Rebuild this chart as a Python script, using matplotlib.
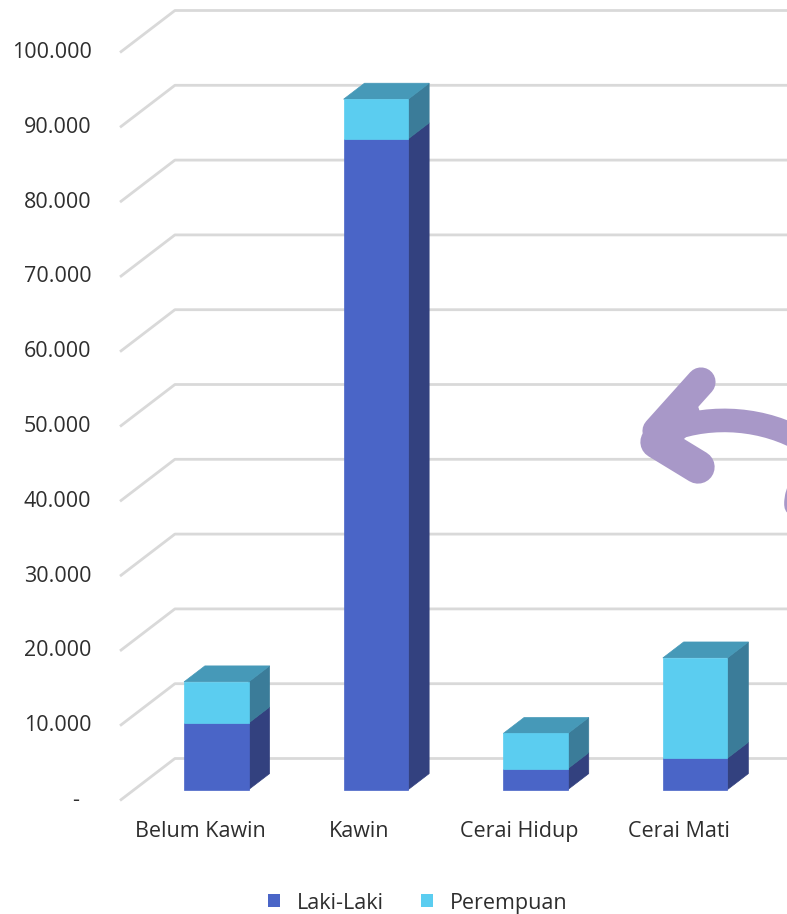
import numpy as np
import matplotlib
matplotlib.use("Agg")
import matplotlib.pyplot as plt
from matplotlib.patches import Polygon, Patch, PathPatch
from matplotlib.path import Path

plt.rcParams['font.family'] = ['Open Sans', 'DejaVu Sans']

# data
categories = ["Belum Kawin", "Kawin", "Cerai Hidup", "Cerai Mati"]
laki_laki = [8900, 87000, 2800, 4200]
perempuan = [5500, 5300, 4700, 13400]
y_ticks = list(range(0, 100001, 10000))
series_names = ["Laki-Laki", "Perempuan"]

# colours: front, side, top
col_laki = ("#4A65C7", "#33417F", "#3E57AE")
col_prm = ("#5BCDF0", "#3B7C99", "#4699B8")
grid_col = "#D9D9D9"
text_col = "#2E2E2E"

# fake 3d: depth offset of the floor in data units
DX = 0.344
DY = 5615.0
F0, F1 = 0.26, 0.64      # bar front / back depth fraction
BAR_W = 0.405
BAR_SHIFT = 0.013

fig = plt.figure(figsize=(7.87, 9.14), dpi=100)
ax = fig.add_axes([0, 0, 1, 1])
# category 0 at x=200px, 159.6px per category; 0 at y=800.5px, 74.8px per 10.000
ax.set_xlim((0 - 200) / 159.6, (787 - 200) / 159.6)
ax.set_ylim((800.5 - 914) / 74.8 * 10000, 800.5 / 74.8 * 10000)
ax.axis("off")

x_left = (120 - 200) / 159.6
x_right = ax.get_xlim()[1] + 1
for v in y_ticks:
    ax.plot([x_left, x_left + DX, x_right], [v, v + DY, v + DY],
            color=grid_col, lw=2.0, zorder=1, solid_capstyle="butt")
    lab = "-" if v == 0 else f"{v:,}".replace(",", ".")
    xo = -0.76 if v == 0 else -0.68
    ax.text(xo, v, lab, ha="right", va="center", fontsize=15.5, color=text_col)


def box(ax, xc, bottom, top, cols, draw_top):
    x0, x1 = xc - BAR_W / 2, xc + BAR_W / 2
    def p(x, v, f):
        return (x + f * DX, v + f * DY)
    front = [p(x0, bottom, F0), p(x1, bottom, F0), p(x1, top, F0), p(x0, top, F0)]
    side = [p(x1, bottom, F0), p(x1, bottom, F1), p(x1, top, F1), p(x1, top, F0)]
    ax.add_patch(Polygon(side, closed=True, facecolor=cols[1], edgecolor=cols[1], lw=0.5, zorder=3))
    ax.add_patch(Polygon(front, closed=True, facecolor=cols[0], edgecolor=cols[0], lw=0.5, zorder=4))
    if draw_top:
        topf = [p(x0, top, F0), p(x1, top, F0), p(x1, top, F1), p(x0, top, F1)]
        ax.add_patch(Polygon(topf, closed=True, facecolor=cols[2], edgecolor=cols[2], lw=0.5, zorder=3))


for i, (l, pr) in enumerate(zip(laki_laki, perempuan)):
    xc = i + BAR_SHIFT
    box(ax, xc, 0, l, col_laki, False)
    box(ax, xc, l, l + pr, col_prm, True)
    ax.text(i, -4200, categories[i], ha="center", va="center", fontsize=15.5, color=text_col)

handles = [Patch(facecolor=col_laki[0]), Patch(facecolor=col_prm[0])]
fig.legend(handles, series_names, loc="center", bbox_to_anchor=(0.531, 0.012), ncol=2,
           frameon=False, fontsize=15.5, handlelength=0.55, handleheight=0.55,
           columnspacing=1.7, handletextpad=0.8, labelcolor=text_col)

# hand-drawn arrow on top
ov = fig.add_axes([0, 0, 1, 1], zorder=5)
ov.set_xlim(0, 787)
ov.set_ylim(914, 0)
ov.axis("off")
ov.patch.set_alpha(0)
arrow_col = "#A898C8"
shaft = Path([(670, 430), (712, 414), (765, 418), (805, 442),
              (840, 465), (795, 472), (796, 505), (796, 525)],
             [Path.MOVETO, Path.CURVE4, Path.CURVE4, Path.CURVE4,
              Path.CURVE4, Path.CURVE4, Path.CURVE4, Path.LINETO])
ov.add_patch(PathPatch(shaft, fill=False, edgecolor=arrow_col, lw=17,
                       capstyle="round", joinstyle="round"))
ov.add_patch(Polygon([(647, 436), (690, 385), (702, 420), (682, 440), (697, 462)],
                     closed=True, facecolor=arrow_col, edgecolor=arrow_col, lw=1))
ov.plot([657, 701], [431, 382], color=arrow_col, lw=21, solid_capstyle="round")
ov.plot([657, 698], [442, 467], color=arrow_col, lw=24, solid_capstyle="round")

fig.savefig("out.png", dpi=100, facecolor="white")
